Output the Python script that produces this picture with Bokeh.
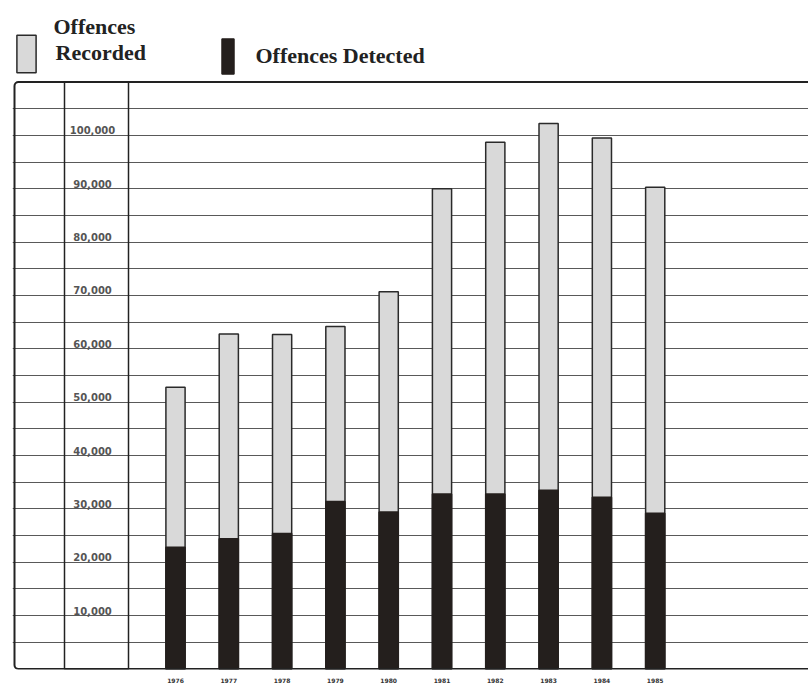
from bokeh.plotting import figure
from bokeh.models import Range1d, FixedTicker, Grid, BoxAnnotation, Legend, LegendItem, Label
from bokeh.core.properties import value
from bokeh.embed import file_html
from bokeh.resources import INLINE

# ---- data ----
years = [1976, 1977, 1978, 1979, 1980, 1981, 1982, 1983, 1984, 1985]
recorded = [52800, 62800, 62700, 64200, 70700, 90000, 98700, 102200, 99500, 90300]
detected = [22800, 24400, 25400, 31400, 29400, 32800, 32800, 33500, 32200, 29200]
label_ticks = [10000, 20000, 30000, 40000, 50000, 60000, 70000, 80000, 90000, 100000]
label_texts = ["10,000", "20,000", "30,000", "40,000", "50,000",
               "60,000", "70,000", "80,000", "90,000", "100,000"]
grid_ticks = [5000, 10000, 15000, 20000, 25000, 30000, 35000, 40000, 45000, 50000,
              55000, 60000, 65000, 70000, 75000, 80000, 85000, 90000, 95000, 100000, 105000]
box_top = 110000
legend_recorded = "Recorded"
legend_recorded_top = "Offences"
legend_detected = "Offences Detected"

# ---- layout (pixels) ----
W, H = 808, 686
FRAME_LEFT = 12
BOTTOM = 17
PX_PER_YEAR = 53.3
FIRST_BAR_PX = 175
frame_w = W - FRAME_LEFT
frame_h = H - BOTTOM
x_start = years[0] - (FIRST_BAR_PX - FRAME_LEFT) / PX_PER_YEAR
x_end = x_start + frame_w / PX_PER_YEAR

ZERO_PX = 668.5
TOP_BORDER_PX = 81.5
scale = (ZERO_PX - TOP_BORDER_PX) / box_top
y_start = -(frame_h - ZERO_PX) / scale
y_end = y_start + frame_h / scale


def xd(px):
    return x_start + (px - FRAME_LEFT) / PX_PER_YEAR


def yd(py):
    return y_start + (frame_h - py) / scale


p = figure(width=W, height=H, x_range=Range1d(x_start, x_end), y_range=Range1d(y_start, y_end),
           output_backend="svg", toolbar_location=None, y_axis_location=None,
           min_border_left=FRAME_LEFT, min_border_right=0, min_border_top=0,
           min_border_bottom=BOTTOM, outline_line_color=None)
for g in p.xgrid:
    g.visible = False
for g in p.ygrid:
    g.visible = False

p.add_layout(Grid(dimension=1, ticker=FixedTicker(ticks=grid_ticks),
                  grid_line_color="#3c3c3c", grid_line_width=1, grid_line_alpha=0.85))

# bordered boxes
p.add_layout(BoxAnnotation(left=xd(14), right=x_end + 1, bottom=0, top=box_top,
                           fill_color=None, line_color="#222222", line_alpha=1.0,
                           line_width=2, border_radius=4))
p.add_layout(BoxAnnotation(left=xd(64), right=xd(128), bottom=0, top=box_top,
                           fill_color=None, line_color="#222222", line_alpha=1.0,
                           line_width=1.5))

r_rec = p.vbar(x=years, top=recorded, bottom=0, width=0.36,
               fill_color="#d9d9d9", line_color="#2a2a2a", line_width=1.5)
r_det = p.vbar(x=years, top=detected, bottom=0, width=0.36,
               fill_color="#241f1d", line_color="#241f1d", line_width=1.5)

p.text(x=[xd(92)] * len(label_ticks), y=label_ticks, text=label_texts,
       text_font=value("DejaVu Sans"), text_font_style="bold", text_font_size="10px",
       text_color="#555555", text_align="center", text_baseline="bottom", y_offset=-1)

ax = p.xaxis[0]
ax.ticker = FixedTicker(ticks=years)
ax.axis_line_color = None
ax.major_tick_line_color = None
ax.minor_tick_line_color = None
ax.major_tick_out = 0
ax.major_tick_in = 0
ax.minor_tick_out = 0
ax.minor_tick_in = 0
ax.major_label_standoff = 8
ax.major_label_text_font = "DejaVu Sans"
ax.major_label_text_font_style = "bold"
ax.major_label_text_font_size = "6px"
ax.major_label_text_color = "#333333"

common = dict(orientation="horizontal", label_text_font="Liberation Serif",
              label_text_font_style="bold", label_text_font_size="22px",
              label_text_color="#222222", padding=0, margin=0,
              border_line_color=None, background_fill_alpha=0)

# legend glyphs are inset by 10% on each side, so the item boxes are a bit larger
leg1 = Legend(items=[LegendItem(label=legend_recorded, renderers=[r_rec])],
              location=(16 - 2.4 - FRAME_LEFT, frame_h - 72 - 4.75),
              glyph_width=24, glyph_height=47, label_standoff=18, **common)
leg2 = Legend(items=[LegendItem(label=legend_detected, renderers=[r_det])],
              location=(221 - 1.5 - FRAME_LEFT, frame_h - 74 - 4.4),
              glyph_width=15, glyph_height=44, label_standoff=21, **common)
p.add_layout(leg1)
p.add_layout(leg2)

p.add_layout(Label(x=xd(53), y=yd(26), text=legend_recorded_top,
                   text_font="Liberation Serif", text_font_style="bold",
                   text_font_size="22px", text_color="#222222",
                   text_align="left", text_baseline="middle"))

open("out.html", "w").write(file_html(p, INLINE))
